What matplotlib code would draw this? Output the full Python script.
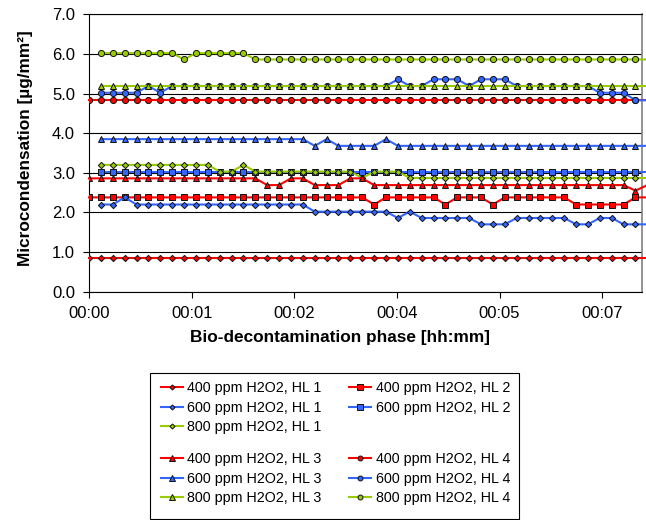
import numpy as np
import matplotlib
matplotlib.use("Agg")
from matplotlib import pyplot as plt
from matplotlib.lines import Line2D
from matplotlib.patches import Rectangle
from matplotlib.ticker import MultipleLocator, FuncFormatter

plt.rcParams['font.family'] = ['Liberation Sans', 'DejaVu Sans']

# one reading every 10 s (last point lies just past the axis end)
t = np.arange(0, 480, 10)
nan = np.nan

hl1_400 = [0.86, 0.86, 0.86, 0.86, 0.86, 0.86, 0.86, 0.86, 0.86, 0.86, 0.86, 0.86,
           0.86, 0.86, 0.86, 0.86, 0.86, 0.86, 0.86, 0.86, 0.86, 0.86, 0.86, 0.86,
           0.86, 0.86, 0.86, 0.86, 0.86, 0.86, 0.86, 0.86, 0.86, 0.86, 0.86, 0.86,
           0.86, 0.86, 0.86, 0.86, 0.86, 0.86, 0.86, 0.86, 0.86, 0.86, 0.86, 0.86]
hl1_600 = [nan, 2.20, 2.20, 2.38, 2.20, 2.20, 2.20, 2.20, 2.20, 2.20, 2.20, 2.20,
           2.20, 2.20, 2.20, 2.20, 2.20, 2.20, 2.20, 2.02, 2.02, 2.02, 2.02, 2.02,
           2.02, 2.02, 1.86, 2.02, 1.86, 1.86, 1.86, 1.86, 1.86, 1.70, 1.70, 1.70,
           1.86, 1.86, 1.86, 1.86, 1.86, 1.70, 1.70, 1.86, 1.86, 1.70, 1.70, 1.70]
hl1_800 = [nan, 3.20, 3.20, 3.20, 3.20, 3.20, 3.20, 3.20, 3.20, 3.20, 3.20, 3.03,
           3.03, 3.20, 3.03, 3.03, 3.03, 3.03, 3.03, 3.03, 3.03, 3.03, 3.03, 2.87,
           3.03, 3.03, 3.03, 2.87, 2.87, 2.87, 2.87, 2.87, 2.87, 2.87, 2.87, 2.87,
           2.87, 2.87, 2.87, 2.87, 2.87, 2.87, 2.87, 2.87, 2.87, 2.87, 2.87, 2.87]
hl2_400 = [2.38, 2.38, 2.38, 2.38, 2.38, 2.38, 2.38, 2.38, 2.38, 2.38, 2.38, 2.38,
           2.38, 2.38, 2.38, 2.38, 2.38, 2.38, 2.38, 2.38, 2.38, 2.38, 2.38, 2.38,
           2.20, 2.38, 2.38, 2.38, 2.38, 2.38, 2.20, 2.38, 2.38, 2.38, 2.20, 2.38,
           2.38, 2.38, 2.38, 2.38, 2.38, 2.20, 2.20, 2.20, 2.20, 2.20, 2.38, 2.38]
hl2_600 = [nan, 3.03, 3.03, 3.03, 3.03, 3.03, 3.03, 3.03, 3.03, 3.03, 3.03, 3.03,
           3.03, 3.03, 3.03, 3.03, 3.03, 3.03, 3.03, 3.03, 3.03, 3.03, 3.03, 3.03,
           3.03, 3.03, 3.03, 3.03, 3.03, 3.03, 3.03, 3.03, 3.03, 3.03, 3.03, 3.03,
           3.03, 3.03, 3.03, 3.03, 3.03, 3.03, 3.03, 3.03, 3.03, 3.03, 3.03, 3.03]
hl3_400 = [2.86, 2.86, 2.86, 2.86, 2.86, 2.86, 2.86, 2.86, 2.86, 2.86, 2.86, 2.86,
           2.86, 2.86, 2.86, 2.69, 2.69, 2.86, 2.86, 2.69, 2.69, 2.69, 2.86, 2.86,
           2.69, 2.69, 2.69, 2.69, 2.69, 2.69, 2.69, 2.69, 2.69, 2.69, 2.69, 2.69,
           2.69, 2.69, 2.69, 2.69, 2.69, 2.69, 2.69, 2.69, 2.69, 2.69, 2.55, 2.69]
hl3_600 = [nan, 3.85, 3.85, 3.85, 3.85, 3.85, 3.85, 3.85, 3.85, 3.85, 3.85, 3.85,
           3.85, 3.85, 3.85, 3.85, 3.85, 3.85, 3.85, 3.68, 3.85, 3.68, 3.68, 3.68,
           3.68, 3.85, 3.68, 3.68, 3.68, 3.68, 3.68, 3.68, 3.68, 3.68, 3.68, 3.68,
           3.68, 3.68, 3.68, 3.68, 3.68, 3.68, 3.68, 3.68, 3.68, 3.68, 3.68, 3.68]
hl3_800 = [nan, 5.18, 5.18, 5.18, 5.18, 5.18, 5.18, 5.18, 5.18, 5.18, 5.18, 5.18,
           5.18, 5.18, 5.18, 5.18, 5.18, 5.18, 5.18, 5.18, 5.18, 5.18, 5.18, 5.18,
           5.18, 5.18, 5.18, 5.18, 5.18, 5.18, 5.18, 5.18, 5.18, 5.18, 5.18, 5.18,
           5.18, 5.18, 5.18, 5.18, 5.18, 5.18, 5.18, 5.18, 5.18, 5.18, 5.18, 5.18]
hl4_400 = [4.83, 4.83, 4.83, 4.83, 4.83, 4.83, 4.83, 4.83, 4.83, 4.83, 4.83, 4.83,
           4.83, 4.83, 4.83, 4.83, 4.83, 4.83, 4.83, 4.83, 4.83, 4.83, 4.83, 4.83,
           4.83, 4.83, 4.83, 4.83, 4.83, 4.83, 4.83, 4.83, 4.83, 4.83, 4.83, 4.83,
           4.83, 4.83, 4.83, 4.83, 4.83, 4.83, 4.83, 4.83, 4.83, 4.83, 4.83, 4.83]
hl4_600 = [nan, 5.02, 5.02, 5.02, 5.02, 5.19, 5.02, 5.19, 5.19, 5.19, 5.19, 5.19,
           5.19, 5.19, 5.19, 5.19, 5.19, 5.19, 5.19, 5.19, 5.19, 5.19, 5.19, 5.19,
           5.19, 5.19, 5.36, 5.19, 5.19, 5.36, 5.36, 5.36, 5.19, 5.36, 5.36, 5.36,
           5.19, 5.19, 5.19, 5.19, 5.19, 5.19, 5.19, 5.02, 5.02, 5.02, 4.83, 4.83]
hl4_800 = [nan, 6.02, 6.02, 6.02, 6.02, 6.02, 6.02, 6.02, 5.86, 6.02, 6.02, 6.02,
           6.02, 6.02, 5.86, 5.86, 5.86, 5.86, 5.86, 5.86, 5.86, 5.86, 5.86, 5.86,
           5.86, 5.86, 5.86, 5.86, 5.86, 5.86, 5.86, 5.86, 5.86, 5.86, 5.86, 5.86,
           5.86, 5.86, 5.86, 5.86, 5.86, 5.86, 5.86, 5.86, 5.86, 5.86, 5.86, 5.86]

RED = "#FF0000"
BLUE = "#3366FF"
GREEN = "#99CC00"

# label, values, colour, marker, marker size
series = [
    ("400 ppm H2O2, HL 1", hl1_400, RED, "D", 3.2),
    ("400 ppm H2O2, HL 2", hl2_400, RED, "s", 4.8),
    ("600 ppm H2O2, HL 1", hl1_600, BLUE, "D", 3.2),
    ("600 ppm H2O2, HL 2", hl2_600, BLUE, "s", 4.8),
    ("800 ppm H2O2, HL 1", hl1_800, GREEN, "D", 3.2),
    ("400 ppm H2O2, HL 3", hl3_400, RED, "^", 4.8),
    ("400 ppm H2O2, HL 4", hl4_400, RED, "o", 4.4),
    ("600 ppm H2O2, HL 3", hl3_600, BLUE, "^", 4.8),
    ("600 ppm H2O2, HL 4", hl4_600, BLUE, "o", 4.4),
    ("800 ppm H2O2, HL 3", hl3_800, GREEN, "^", 4.8),
    ("800 ppm H2O2, HL 4", hl4_800, GREEN, "o", 4.4),
]

fig = plt.figure(figsize=(6.46, 5.2), dpi=100)
ax = fig.add_axes([89/646, 1 - 291.7/520, 553/646, 277.4/520])

handles = {}
for i, (label, y, color, marker, ms) in enumerate(series):
    z = 3 + i * 0.01
    ln, = ax.plot(t, y, color=color, lw=1.5, clip_on=False, zorder=z)
    mk, = ax.plot(t, y, ls="none", marker=marker, ms=ms, mfc=color,
                  mec="#111111", mew=0.7, zorder=z)
    handles[label] = (ln, mk)

ax.set_xlim(0, 465.5)
ax.set_ylim(0, 7)
ax.xaxis.set_major_locator(MultipleLocator(86.4))
ax.xaxis.set_major_formatter(FuncFormatter(
    lambda s, _: f"{int(s // 3600):02d}:{int(s % 3600 // 60):02d}"))
ax.yaxis.set_major_locator(MultipleLocator(1))
ax.yaxis.set_major_formatter(FuncFormatter(lambda v, _: f"{v:.1f}"))
ax.tick_params(direction="out", length=4, width=0.8, labelsize=12, pad=6)
ax.yaxis.grid(True, color="black", lw=0.8)
ax.set_axisbelow(True)
for side in ["left", "bottom", "top"]:
    ax.spines[side].set_color("black")
    ax.spines[side].set_linewidth(0.8)
ax.spines["right"].set_color("#808080")
ax.spines["right"].set_linewidth(1.2)

ax.set_xlabel("Bio-decontamination phase [hh:mm]", fontsize=12.4, fontweight="bold")
ax.xaxis.set_label_coords(0.454, -0.138)
ax.set_ylabel("Microcondensation [µg/mm²]", fontsize=12.4, fontweight="bold")
ax.yaxis.set_label_coords(-0.101, 0.516)

# legend: two blocks in one frame
blank = Line2D([], [], ls="none")
top_labels = ["400 ppm H2O2, HL 1", "600 ppm H2O2, HL 1", "800 ppm H2O2, HL 1",
              "400 ppm H2O2, HL 2", "600 ppm H2O2, HL 2", None]
bot_labels = ["400 ppm H2O2, HL 3", "600 ppm H2O2, HL 3", "800 ppm H2O2, HL 3",
              "400 ppm H2O2, HL 4", "600 ppm H2O2, HL 4", "800 ppm H2O2, HL 4"]
leg_kw = dict(ncol=2, loc="upper left", frameon=False, fontsize=10.3,
              handlelength=1.55, handletextpad=0.3, columnspacing=1.9,
              labelspacing=0.4, borderpad=0, borderaxespad=0, markerscale=0.8,
              numpoints=1)
for labels, top in [(top_labels, 381), (bot_labels, 452)]:
    hs = [handles[l] if l else blank for l in labels]
    ls = [l if l else "" for l in labels]
    fig.legend(hs, ls, bbox_to_anchor=(161/646, 1 - top/520), **leg_kw)
fig.add_artist(Rectangle((150/646, 1/520), 369/646, 146/520, transform=fig.transFigure,
                         fill=False, ec="black", lw=0.8))

plt.savefig("out.png", dpi=100)
